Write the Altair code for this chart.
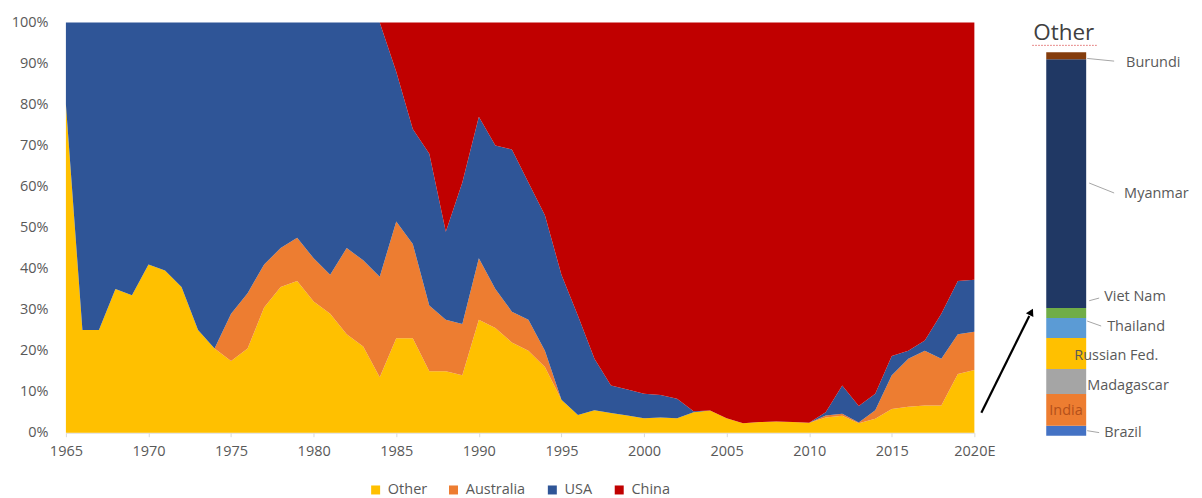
import altair as alt
import pandas as pd

# ---------------- data ----------------
years = list(range(1965, 2021))
other = [80, 25, 25, 35, 33.5, 41, 39.5, 35.5, 25, 20.5,
         17.5, 20.5, 30.5, 35.5, 37, 32, 29, 24, 21, 13.5,
         23, 23, 15, 15, 14, 27.5, 25.5, 22, 20, 16,
         8, 4.3, 5.5, 4.8, 4.2, 3.5, 3.7, 3.5, 5, 5.4,
         3.5, 2.3, 2.6, 2.7, 2.6, 2.4, 3.7, 4.1, 2.3, 3.4,
         5.8, 6.3, 6.6, 6.6, 14.3, 15.3]
australia = [0, 0, 0, 0, 0, 0, 0, 0, 0, 0,
             11.5, 13.5, 10.5, 9.5, 10.5, 10.5, 9.5, 21, 21, 24.5,
             28.5, 23, 16, 12.5, 12.5, 15, 9.5, 7.5, 7.5, 4,
             0, 0, 0, 0, 0, 0, 0, 0, 0, 0,
             0, 0, 0, 0, 0, 0, 0.5, 0.5, 0.2, 2.1,
             8.2, 11.7, 13.4, 11.4, 9.7, 9.3]
usa = [20, 75, 75, 65, 66.5, 59, 60.5, 64.5, 75, 79.5,
       71, 66, 59, 55, 52.5, 57.5, 61.5, 55, 58, 62,
       36.5, 28, 37, 21.5, 34.5, 34.5, 35, 39.5, 33.5, 33,
       30.5, 24.2, 12.5, 6.7, 6.3, 6, 5.5, 4.8, 0.2, 0,
       0, 0, 0, 0, 0, 0, 0.8, 6.9, 4, 4,
       4.7, 2, 2.5, 11, 13, 12.7]
china = [0, 0, 0, 0, 0, 0, 0, 0, 0, 0,
         0, 0, 0, 0, 0, 0, 0, 0, 0, 0,
         12, 26, 32, 51, 39, 23, 30, 31, 39, 47,
         61.5, 71.5, 82, 88.5, 89.5, 90.5, 90.8, 91.7, 94.8, 94.6,
         96.5, 97.7, 97.4, 97.3, 97.4, 97.6, 95, 88.5, 93.5, 90.5,
         81.3, 80, 77.5, 71, 63, 62.7]
series_names = ["Other", "Australia", "USA", "China"]
x_tick_years = list(range(1965, 2021, 5))

other_countries = ["Brazil", "India", "Madagascar", "Russian Fed.",
                   "Thailand", "Viet Nam", "Myanmar", "Burundi"]
other_shares = [2.6, 8.3, 6.5, 8.1, 5.2, 2.6, 64.9, 1.8]

# ---------------- styles ----------------
series_colors = ["#FFC000", "#ED7D31", "#2F5597", "#C00000"]
country_colors = ["#4472C4", "#ED7D31", "#A5A5A5", "#FFC000",
                  "#5B9BD5", "#70AD47", "#203864", "#843C0C"]
# label placement (panel pixels for x, bar-scale units for y)
label_x = [120, 65, 103, 90, 123, 120, 140, 142]
label_y = [0.8, 6.5, 13.0, 20.8, 28.4, 36.2, 63.0, 97.1]
label_colors = ["#595959", "#B4501A", "#595959", "#595959",
                "#595959", "#595959", "#595959", "#595959"]
leader_names = ["Brazil", "Thailand", "Viet Nam", "Myanmar", "Burundi"]
leader_x1 = [103, 103, 105, 105, 103]
leader_x2 = [115, 117, 115, 130, 130]
leader_y1 = [1.3, 29.9, 35.2, 65.9, 98.4]
leader_y2 = [0.8, 28.6, 35.9, 63.3, 97.7]

FONT = "Open Sans"
GREY = "#595959"

# ---------------- main stacked area ----------------
rows = []
for i, yr in enumerate(years):
    for k, (name, vals) in enumerate(zip(series_names, [other, australia, usa, china])):
        rows.append({"year": yr, "series": name, "share": vals[i], "order": k})
df = pd.DataFrame(rows)

area = alt.Chart(df).mark_area(interpolate="linear").encode(
    x=alt.X("year:Q",
            scale=alt.Scale(domain=[1965, 2020], nice=False, zero=False),
            axis=alt.Axis(values=x_tick_years, title=None, grid=False,
                          labelExpr="datum.value == 2020 ? '2020E' : '' + datum.value",
                          labelFlush=False, labelOverlap=False,
                          labelFontSize=14.5, labelColor=GREY, labelPadding=8,
                          tickSize=4, tickColor="#d9d9d9", domainColor="#d9d9d9")),
    y=alt.Y("share:Q", stack="normalize",
            scale=alt.Scale(domain=[0, 1], nice=False),
            axis=alt.Axis(values=[i / 10 for i in range(11)], format=".0%", title=None,
                          grid=False, domain=False, ticks=False, labelPadding=18,
                          labelFlush=False, labelOverlap=False,
                          labelFontSize=14.5, labelColor=GREY)),
    color=alt.Color("series:N",
                    scale=alt.Scale(domain=series_names, range=series_colors),
                    legend=alt.Legend(title=None, orient="none", direction="horizontal",
                                      legendX=303, legendY=461, padding=0,
                                      symbolType="square", symbolSize=81,
                                      symbolStrokeWidth=0, labelFontSize=14.5,
                                      labelColor=GREY, columnPadding=19,
                                      labelOffset=5)),
    order=alt.Order("order:Q", sort="ascending"),
).properties(width=910, height=411)

# ---------------- "Other" breakdown bar ----------------
bdf = pd.DataFrame({"country": other_countries, "share": other_shares,
                    "color": country_colors, "idx": list(range(len(other_countries)))})
ys = alt.Scale(domain=[0.78, 107.8], nice=False, zero=False)

bar = alt.Chart(bdf).transform_stack(
    stack="share", groupby=[], as_=["y0", "y1"], sort=[alt.SortField("idx", order="ascending")]
).mark_rect().encode(
    x=alt.value(62), x2=alt.value(102),
    y=alt.Y("y0:Q", scale=ys, axis=None), y2="y1:Q",
    color=alt.Color("color:N", scale=None),
)

ldf = pd.DataFrame({"country": other_countries, "lx": label_x, "ly": label_y,
                    "lc": label_colors})
labels = alt.Chart(ldf).mark_text(align="left", baseline="middle", fontSize=14.5,
                                   font=FONT).encode(
    x=alt.X("lx:Q", scale=None),
    y=alt.Y("ly:Q", scale=ys, axis=None),
    text="country:N",
    color=alt.Color("lc:N", scale=None),
)

leaders = alt.Chart(pd.DataFrame({"n": leader_names, "x1": leader_x1, "x2": leader_x2,
                                  "y1": leader_y1, "y2": leader_y2})).mark_rule(
    color="#a6a6a6", strokeWidth=1).encode(
    x=alt.X("x1:Q", scale=None), x2="x2:Q",
    y=alt.Y("y1:Q", scale=ys, axis=None), y2="y2:Q",
)

title_df = pd.DataFrame({"t": ["Other"]})
title = alt.Chart(title_df).mark_text(align="left", baseline="middle", fontSize=22.5,
                                      font=FONT, color="#404040").encode(
    x=alt.value(49), y=alt.value(11), text="t:N")
underline = alt.Chart(title_df).mark_rule(color="#e06666", strokeWidth=1,
                                          strokeDash=[1.5, 1.5]).encode(
    x=alt.value(48), x2=alt.value(113), y=alt.value(23))

arrow = alt.Chart(title_df).mark_rule(color="black", strokeWidth=2.2).encode(
    x=alt.value(-3), x2=alt.value(45), y=alt.value(391), y2=alt.value(294))
head = alt.Chart(title_df).mark_point(shape="triangle-up", filled=True, size=70,
                                      angle=27, color="black", opacity=1).encode(
    x=alt.value(47), y=alt.value(290))

side = alt.layer(bar, leaders, labels, title, underline, arrow, head).properties(
    width=200, height=411)

chart = alt.hconcat(area, side, spacing=10, bounds="flush").configure(
    font=FONT, view=alt.ViewConfig(stroke=None)
).properties(
    padding={"left": 3, "top": 6, "right": 5, "bottom": 0}
)

chart.save("out.html", embed_options={"renderer": "svg", "actions": False})
